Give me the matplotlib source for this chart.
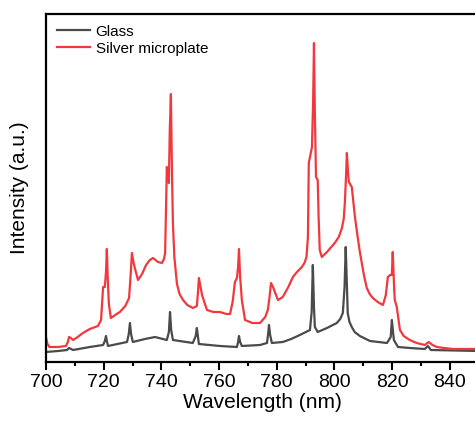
import matplotlib
matplotlib.use('Agg')
import matplotlib.pyplot as plt
from matplotlib.ticker import MultipleLocator

plt.rcParams['font.family'] = ['Liberation Sans', 'DejaVu Sans']

# silver microplate spectrum (wavelength nm, intensity a.u.)
silver_wl = [700.0, 700.5, 701.2, 704.2, 706.9, 707.6, 708.0, 708.6, 709.4, 711.0,
             712.8, 715.2, 718.0, 719.1, 719.5, 719.8, 720.4, 720.8, 721.1, 721.4,
             721.8, 722.5, 724.0, 725.6, 727.5, 728.8, 729.3, 729.8, 730.3, 730.8,
             731.9, 733.3, 734.7, 736.0, 737.1, 738.8, 740.2, 740.9, 741.3, 741.6,
             741.9, 742.3, 742.6, 742.9, 743.3, 743.7, 744.0, 744.5, 745.4, 746.3,
             747.5, 749.0, 750.9, 752.3, 752.7, 753.0, 753.5, 754.1, 755.8, 758.0,
             760.3, 762.5, 763.8, 764.7, 765.5, 766.2, 766.6, 766.9, 767.3, 767.9,
             769.0, 771.5, 774.2, 776.0, 776.9, 777.5, 778.0, 778.7, 780.4, 782.1,
             784.0, 785.6, 787.0, 788.7, 789.6, 790.3, 790.8, 791.1, 791.7, 792.2,
             792.6, 792.9, 793.2, 793.6, 794.2, 794.5, 794.9, 795.6, 797.4, 800.1,
             801.5, 802.6, 803.2, 803.6, 804.0, 804.3, 804.7, 805.0, 806.0, 807.1,
             807.8, 808.8, 810.2, 811.2, 812.2, 813.3, 815.0, 816.8, 817.8, 818.5,
             819.3, 819.9, 820.2, 820.6, 820.9, 821.6, 822.2, 822.7, 824.0, 826.1,
             828.5, 831.3, 832.7, 834.0, 835.5, 838.0, 841.0, 845.0, 850.0]
silver_int = [25, 18, 15, 15, 16, 20, 25, 24, 22, 25,
              29, 33, 36, 42, 60, 75, 75, 90, 113, 85,
              58, 44, 47, 50, 56, 64, 85, 109, 100, 94,
              82, 88, 97, 102, 104, 100, 99, 103, 109, 150,
              195, 182, 179, 230, 268, 185, 139, 105, 78, 68,
              62, 57, 54, 56, 70, 84, 76, 67, 52, 50,
              50, 48, 48, 60, 80, 84, 95, 113, 85, 62,
              42, 39, 39, 45, 52, 65, 79, 75, 62, 65,
              75, 85, 90, 95, 99, 105, 125, 199, 208, 215,
              260, 319, 250, 185, 182, 145, 112, 105, 110, 119,
              125, 134, 143, 159, 185, 209, 190, 180, 175, 145,
              130, 110, 87, 74, 68, 64, 60, 57, 67, 85,
              87, 87, 110, 80, 62, 55, 42, 32, 26, 22,
              19, 17, 20, 17, 15, 14, 13, 13, 13]

# glass spectrum
glass_wl = [700.0, 704.2, 707.3, 708.0, 709.4, 715.2, 719.8, 720.4, 720.8, 721.1,
            721.5, 728.1, 728.7, 729.1, 729.5, 730.1, 734.3, 737.8, 741.9, 742.6,
            743.0, 743.4, 744.0, 750.9, 751.9, 752.3, 752.7, 753.0, 760.3, 766.2,
            766.6, 766.9, 767.3, 767.9, 774.2, 776.6, 777.0, 777.3, 777.7, 778.3,
            782.1, 785.0, 788.0, 791.5, 792.1, 792.5, 792.9, 793.2, 794.2, 797.4,
            800.8, 802.0, 802.9, 803.5, 803.9, 804.3, 804.6, 805.2, 806.0, 807.0,
            808.8, 812.3, 818.2, 819.5, 819.9, 820.3, 820.6, 822.0, 826.1, 831.3,
            832.4, 833.4, 850.0]
glass_int = [10, 11, 12, 14, 12, 15, 17, 21, 26, 21,
             16, 20, 28, 39, 28, 20, 23, 25, 22, 30,
             50, 32, 22, 19, 26, 34, 25, 18, 16, 15,
             20, 26, 20, 16, 17, 19, 28, 37, 27, 19,
             20, 23, 27, 32, 50, 97, 55, 35, 30, 34,
             39, 43, 49, 75, 115, 78, 49, 40, 35, 30,
             26, 21, 19, 25, 42, 30, 22, 15, 14, 13,
             16, 12, 11]

fig = plt.figure(figsize=(4.75, 4.22), dpi=100)
ax = fig.add_axes([0.0968, 0.1422, 0.911, 0.8246])

ax.plot(glass_wl, glass_int, color='#4a4a4a', lw=1.6, label='Glass')
ax.plot(silver_wl, silver_int, color='#f2383c', lw=1.6, label='Silver microplate')

ax.set_xlim(700, 850)
ax.set_ylim(0, 348)
ax.xaxis.set_major_locator(MultipleLocator(20))
ax.xaxis.set_minor_locator(MultipleLocator(10))
ax.set_yticks([])
ax.tick_params(axis='x', which='major', direction='out', length=6, width=1.5,
               labelsize=14, pad=3)
ax.tick_params(axis='x', which='minor', direction='out', length=3, width=1.5)
for s in ax.spines.values():
    s.set_linewidth(1.6)

ax.set_xlabel('Wavelength (nm)', fontsize=15, labelpad=1)
ax.set_ylabel('Intensity (a.u.)', fontsize=15, labelpad=12)

ax.legend(loc='upper left', frameon=False, fontsize=11, handlelength=2.2,
          handletextpad=0.35, labelspacing=0.2, borderaxespad=0.3,
          bbox_to_anchor=(0.0, 1.0))

fig.savefig('out.png', dpi=100)
